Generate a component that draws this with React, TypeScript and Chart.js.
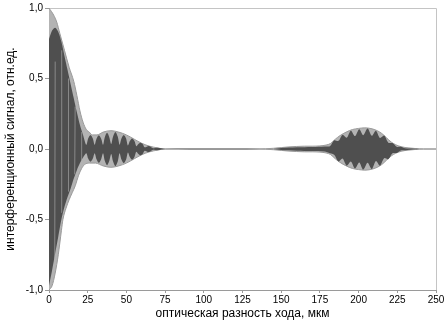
import React, { useEffect, useRef } from "react";
import { Chart, registerables } from "chart.js";

Chart.register(...registerables);

// x ticks (мкм) and y ticks (отн.ед.)
const xTicks = [0, 25, 50, 75, 100, 125, 150, 175, 200, 225, 250];
const yTicks = [-1, -0.5, 0, 0.5, 1];

// light-gray envelope, upper edge
const envUpperX = [0, 3, 5, 7, 10, 13, 16, 18, 20, 22, 24, 26, 28, 31, 35, 40, 45, 50, 55, 60, 65, 70, 75, 135, 145, 150, 155, 160, 165, 170, 175, 179, 182, 185, 188, 192, 196, 200, 204, 208, 212, 215, 218, 221, 224, 228, 232, 237, 242, 250];
const envUpperY = [1.0, 0.95, 0.9, 0.82, 0.7, 0.58, 0.48, 0.38, 0.27, 0.19, 0.14, 0.12, 0.1, 0.1, 0.12, 0.13, 0.12, 0.1, 0.07, 0.04, 0.02, 0.008, 0, 0, 0.005, 0.01, 0.015, 0.018, 0.02, 0.02, 0.022, 0.028, 0.04, 0.07, 0.095, 0.12, 0.138, 0.146, 0.15, 0.145, 0.13, 0.11, 0.08, 0.05, 0.03, 0.015, 0.008, 0.003, 0, 0];

// light-gray envelope, lower edge
const envLowerX = [0, 2, 4, 6, 8, 9, 11, 13, 15, 17, 19, 21, 23, 26, 30, 35, 40, 45, 50, 55, 60, 65, 70, 75, 135, 145, 150, 155, 160, 165, 170, 175, 179, 182, 185, 188, 192, 196, 200, 204, 208, 212, 215, 218, 221, 224, 228, 232, 237, 242, 250];
const envLowerY = [-1.0, -0.97, -0.88, -0.75, -0.58, -0.5, -0.42, -0.36, -0.31, -0.26, -0.19, -0.14, -0.11, -0.1, -0.1, -0.12, -0.13, -0.12, -0.1, -0.07, -0.04, -0.02, -0.008, 0, 0, -0.005, -0.01, -0.015, -0.018, -0.02, -0.02, -0.022, -0.028, -0.04, -0.07, -0.095, -0.12, -0.138, -0.146, -0.15, -0.145, -0.13, -0.11, -0.08, -0.05, -0.03, -0.015, -0.008, -0.003, 0, 0];

// dark-gray oscillation band, upper edge
const darkUpperX = [0, 2, 4, 6, 8, 10, 12, 14, 16, 18, 20, 22, 24.1, 25.3, 26.8, 28.3, 29.5, 30.7, 32.2, 33.7, 34.9, 36.1, 37.5, 38.9, 40.2, 41.4, 42.9, 44.4, 45.6, 46.8, 48.3, 49.8, 51, 52.2, 53.7, 55.2, 56.4, 57.6, 59.1, 60.6, 61.8, 64.5, 67.2, 70, 75, 145, 150, 160, 170, 178, 181.5, 184.2, 187, 189.6, 192.3, 195, 197.7, 200.4, 203, 205.8, 208.5, 211.2, 213.8, 216.5, 219.2, 221.9, 224.6, 227.3, 230, 236, 242];
const darkUpperY = [0.78, 0.84, 0.86, 0.83, 0.76, 0.66, 0.56, 0.46, 0.36, 0.26, 0.17, 0.1, 0.03, 0.075, 0.1, 0.075, 0.03, 0.072, 0.097, 0.072, 0.03, 0.085, 0.115, 0.085, 0.035, 0.088, 0.12, 0.088, 0.03, 0.075, 0.1, 0.075, 0.025, 0.056, 0.075, 0.056, 0.02, 0.034, 0.045, 0.034, 0.012, 0.022, 0.006, 0.008, 0, 0, 0.007, 0.012, 0.014, 0.018, 0.02, 0.062, 0.058, 0.1, 0.08, 0.13, 0.092, 0.14, 0.098, 0.145, 0.094, 0.13, 0.078, 0.095, 0.045, 0.042, 0.016, 0.016, 0.005, 0.002, 0];

// dark-gray oscillation band, lower edge
const darkLowerX = [0, 2, 4, 6, 8, 10, 12, 14, 16, 18, 20, 22, 24.1, 25.3, 26.8, 28.3, 29.5, 30.7, 32.2, 33.7, 34.9, 36.1, 37.5, 38.9, 40.2, 41.4, 42.9, 44.4, 45.6, 46.8, 48.3, 49.8, 51, 52.2, 53.7, 55.2, 56.4, 57.6, 59.1, 60.6, 61.8, 64.5, 67.2, 70, 75, 145, 150, 160, 170, 178, 181.5, 184.2, 187, 189.6, 192.3, 195, 197.7, 200.4, 203, 205.8, 208.5, 211.2, 213.8, 216.5, 219.2, 221.9, 224.6, 227.3, 230, 236, 242];
const darkLowerY = [-0.97, -0.86, -0.74, -0.62, -0.5, -0.41, -0.34, -0.28, -0.21, -0.15, -0.1, -0.06, -0.03, -0.068, -0.09, -0.068, -0.03, -0.072, -0.097, -0.072, -0.03, -0.085, -0.115, -0.085, -0.035, -0.088, -0.12, -0.088, -0.03, -0.075, -0.1, -0.075, -0.025, -0.056, -0.075, -0.056, -0.02, -0.034, -0.045, -0.034, -0.012, -0.022, -0.006, -0.008, 0, 0, -0.007, -0.012, -0.014, -0.018, -0.03, -0.04, -0.088, -0.068, -0.118, -0.088, -0.138, -0.095, -0.146, -0.097, -0.142, -0.085, -0.118, -0.065, -0.072, -0.03, -0.028, -0.01, -0.009, -0.002, 0];

// thin light streaks inside the dark band near zero path difference
const gapX = [3.7, 7.9, 12.3, 16.6, 20.8];
const gapLo = [-0.8, -0.45, -0.3, -0.18, -0.08];
const gapHi = [0.62, 0.7, 0.5, 0.3, 0.12];

const LIGHT = "#b3b3b3";
const DARK = "#4f4f4f";
const AXIS = "#9a9a9a";
const FONT = "'Liberation Sans', Arial, sans-serif";

const pts = (xs: number[], ys: number[]) => xs.map((x, i) => ({ x, y: ys[i] }));
const gapPts = () => {
  const out: any[] = [];
  gapX.forEach((x, i) => {
    out.push({ x, y: gapLo[i] }, { x: x + 0.3, y: gapHi[i] }, { x: x + 0.3, y: null });
  });
  return out;
};

export default function App() {
  const ref = useRef<HTMLCanvasElement | null>(null);

  useEffect(() => {
    if (!ref.current) return;
    const boxPlugin = {
      id: "boxLines",
      beforeDatasetsDraw(chart: any) {
        const { ctx, chartArea } = chart;
        ctx.save();
        ctx.strokeStyle = "#c4c4c4";
        ctx.lineWidth = 1;
        ctx.beginPath();
        ctx.moveTo(chartArea.left, chartArea.top + 0.5);
        ctx.lineTo(chartArea.right + 0.5, chartArea.top + 0.5);
        ctx.lineTo(chartArea.right + 0.5, chartArea.bottom);
        ctx.stroke();
        ctx.restore();
      },
    };
    const chart = new Chart(ref.current, {
      type: "line",
      data: {
        datasets: [
          {
            label: "gaps",
            data: gapPts(),
            borderWidth: 1,
            borderColor: "rgba(175,175,175,0.6)",
            fill: false,
            pointRadius: 0,
            spanGaps: false,
            tension: 0,
          },
          {
            label: "darkUpper",
            data: pts(darkUpperX, darkUpperY),
            borderWidth: 0,
            borderColor: DARK,
            backgroundColor: DARK,
            fill: "origin",
            pointRadius: 0,
            tension: 0.3,
          },
          {
            label: "darkLower",
            data: pts(darkLowerX, darkLowerY),
            borderWidth: 0,
            borderColor: DARK,
            backgroundColor: DARK,
            fill: "origin",
            pointRadius: 0,
            tension: 0.3,
          },
          {
            label: "envUpper",
            data: pts(envUpperX, envUpperY),
            borderWidth: 1,
            borderColor: AXIS,
            backgroundColor: LIGHT,
            fill: "origin",
            pointRadius: 0,
            cubicInterpolationMode: "monotone",
          },
          {
            label: "envLower",
            data: pts(envLowerX, envLowerY),
            borderWidth: 1,
            borderColor: AXIS,
            backgroundColor: LIGHT,
            fill: "origin",
            pointRadius: 0,
            cubicInterpolationMode: "monotone",
          },
        ],
      },
      options: {
        animation: false,
        responsive: true,
        maintainAspectRatio: false,
        layout: { padding: { top: 7, right: 11, left: 0, bottom: 0 } },
        plugins: { legend: { display: false }, tooltip: { enabled: false } },
        scales: {
          x: {
            type: "linear",
            min: 0,
            max: 250,
            afterBuildTicks: (s: any) => {
              s.ticks = xTicks.map((v) => ({ value: v }));
            },
            afterFit: (s: any) => {
              s.height = 34;
            },
            grid: { drawOnChartArea: false, drawTicks: true, tickLength: 3, color: AXIS },
            border: { display: true, color: AXIS },
            ticks: {
              padding: 1,
              maxRotation: 0,
              color: "#000",
              font: { family: FONT, size: 10 },
            },
            title: {
              display: true,
              text: "оптическая разность хода, мкм",
              color: "#000",
              font: { family: FONT, size: 12 },
              padding: { top: 0, bottom: 3 },
            },
          },
          y: {
            type: "linear",
            min: -1,
            max: 1,
            afterBuildTicks: (s: any) => {
              s.ticks = yTicks.map((v) => ({ value: v }));
            },
            afterFit: (s: any) => {
              s.width = 49;
            },
            grid: { drawOnChartArea: false, drawTicks: true, tickLength: 4, color: AXIS },
            border: { display: true, color: AXIS },
            ticks: {
              padding: 2,
              color: "#000",
              font: { family: FONT, size: 10 },
              callback: (v: any) => Number(v).toFixed(1).replace(".", ","),
            },
            title: {
              display: true,
              text: "интерференционный сигнал, отн.ед.",
              color: "#000",
              font: { family: FONT, size: 12 },
              padding: { top: 3, bottom: 0 },
            },
          },
        },
      },
      plugins: [boxPlugin],
    });
    return () => chart.destroy();
  }, []);

  return (
    <div style={{ position: "fixed", left: 0, top: 0, width: 447, height: 324 }}>
      <canvas ref={ref} />
    </div>
  );
}
